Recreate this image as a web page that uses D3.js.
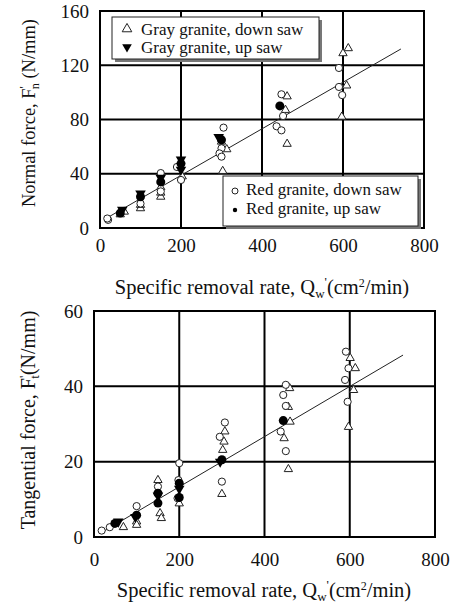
<!DOCTYPE html>
<html>
<head>
<meta charset="utf-8">
<script src="https://cdn.jsdelivr.net/npm/d3@7"></script>
<style>
  body { margin: 0; background: #fff; }
  svg text { font-family: "Liberation Serif", "Times New Roman", "DejaVu Serif", serif; }
</style>
</head>
<body>
<svg id="chart" width="456" height="608"></svg>
<script>
// ---- data: [Q (cm2/min), force (N/mm)] ----
const xTicks = [0, 200, 400, 600, 800];
const normalTicks = [0, 40, 80, 120, 160];
const tangTicks = [0, 20, 40, 60];

// normal force
const normRedDown = [[20, 6], [18, 7], [100, 18], [150, 40.5], [150, 27], [190, 45], [200, 35.4],
  [305, 74], [300, 58.8], [295, 55], [300, 52.6], [448, 98.6], [452, 82.6], [436, 75], [448, 72],
  [590, 118], [590, 104], [598, 98]];
const normGrayDown = [[60, 12], [50, 10], [100, 14.5], [100, 17], [150, 23], [150, 26], [150, 30],
  [203, 38], [300, 63.6], [313, 58], [303, 42], [462, 97], [458, 87], [462, 62],
  [600, 128.8], [613, 132.5], [609, 105], [597, 82]];
const normRedUp = [[50, 11], [100, 23], [150, 34], [200, 47.5], [300, 65], [444, 90]];
const normGrayUp = [[55, 13.5], [100, 25.5], [150, 37], [200, 50.5], [200, 43], [293, 67]];
const normFit = [[17, 7.4], [743, 132]];

// tangential force
const tangRedDown = [[18, 1.7], [37, 2.6], [100, 8.2], [150, 13.4], [200, 19.6], [198, 15.1], [196, 10.3],
  [307, 30.4], [295, 26.6], [300, 14.7], [450, 40.4], [444, 37.7], [450, 34.8], [438, 28], [450, 22.8],
  [591, 49.2], [597, 44.8], [589, 41.7], [595, 35.9]];
const tangGrayDown = [[69, 2.6], [100, 4.1], [100, 3.2], [150, 15.1], [155, 6.3], [158, 5.0], [200, 8.9],
  [307, 28], [305, 25.3], [302, 23.1], [300, 11.4], [459, 39.5], [456, 34.5], [460, 30.6], [446, 26.2], [456, 18],
  [601, 47.5], [613, 44.8], [609, 39], [597, 29.2]];
const tangRedUp = [[49, 3.6], [100, 5.8], [150, 11.6], [150, 9], [200, 14.3], [200, 10.5], [300, 20.5], [444, 30.9]];
const tangGrayUp = [[57, 4.1], [97, 5.3], [150, 11], [200, 12.8], [296, 20]];
const tangFit = [[15, 1], [725, 48.3]];

const svg = d3.select("#chart");

function drawPanel(p) {
  const x = d3.scaleLinear().domain([0, 800]).range([p.left, p.right]);
  const y = d3.scaleLinear().domain([0, p.ymax]).range([p.bottom, p.top]);
  const g = svg.append("g");

  // grid
  g.selectAll(".vg").data(xTicks.slice(1, -1)).enter().append("line")
    .attr("x1", d => x(d)).attr("x2", d => x(d))
    .attr("y1", p.top).attr("y2", p.bottom)
    .attr("stroke", "#000").attr("stroke-width", 2);
  g.selectAll(".hg").data(p.yTicks.slice(1, -1)).enter().append("line")
    .attr("y1", d => y(d)).attr("y2", d => y(d))
    .attr("x1", p.left).attr("x2", p.right)
    .attr("stroke", "#000").attr("stroke-width", 2);

  // axes
  const ax = g.append("g").attr("transform", "translate(0," + p.bottom + ")")
    .call(d3.axisBottom(x).tickValues(xTicks).tickSize(0).tickPadding(p.xPad));
  const ay = g.append("g").attr("transform", "translate(" + p.left + ",0)")
    .call(d3.axisLeft(y).tickValues(p.yTicks).tickSize(0).tickPadding(11));
  [ax, ay].forEach(a => {
    a.select(".domain").remove();
    a.selectAll("text").attr("font-size", 19).attr("fill", "#111");
  });

  // frame
  g.append("rect").attr("x", p.left).attr("y", p.top)
    .attr("width", p.right - p.left).attr("height", p.bottom - p.top)
    .attr("fill", "none").attr("stroke", "#000").attr("stroke-width", 2);

  // fit line
  g.append("line")
    .attr("x1", x(p.fit[0][0])).attr("y1", y(p.fit[0][1]))
    .attr("x2", x(p.fit[1][0])).attr("y2", y(p.fit[1][1]))
    .attr("stroke", "#222").attr("stroke-width", 1);

  const tri = d3.symbol().type(d3.symbolTriangle).size(30);

  g.selectAll(".gd").data(p.grayDown).enter().append("path")
    .attr("d", tri)
    .attr("transform", d => "translate(" + x(d[0]) + "," + y(d[1]) + ")")
    .attr("fill", "#fff").attr("stroke", "#222").attr("stroke-width", 1);
  g.selectAll(".rd").data(p.redDown).enter().append("circle")
    .attr("cx", d => x(d[0])).attr("cy", d => y(d[1])).attr("r", 3.6)
    .attr("fill", "#fff").attr("stroke", "#222").attr("stroke-width", 1);
  g.selectAll(".gu").data(p.grayUp).enter().append("path")
    .attr("d", d3.symbol().type(d3.symbolTriangle).size(48))
    .attr("transform", d => "translate(" + x(d[0]) + "," + y(d[1]) + ") rotate(180)")
    .attr("fill", "#000");
  g.selectAll(".ru").data(p.redUp).enter().append("circle")
    .attr("cx", d => x(d[0])).attr("cy", d => y(d[1])).attr("r", 4.5)
    .attr("fill", "#000");

  // axis titles
  svg.append("text")
    .attr("x", p.xTitleX).attr("y", p.xTitleY)
    .attr("text-anchor", "middle").attr("font-size", 20.5).attr("fill", "#111")
    .html("Specific removal rate, Q<tspan font-size='13' dy='4'>w</tspan><tspan font-size='13' dy='-12'>'</tspan><tspan dy='8'>(cm</tspan><tspan font-size='12' dy='-7'>2</tspan><tspan dy='7'>/min)</tspan>");
  svg.append("text")
    .attr("transform", "translate(35," + p.yTitleY + ") rotate(-90)")
    .attr("text-anchor", "middle").attr("font-size", p.yTitleSize).attr("fill", "#111")
    .html(p.yTitle);
  return { x, y };
}

drawPanel({
  left: 100, right: 424, top: 11, bottom: 228, ymax: 160, yTicks: normalTicks, xPad: 11,
  redDown: normRedDown, grayDown: normGrayDown, redUp: normRedUp, grayUp: normGrayUp, fit: normFit,
  xTitleX: 262, xTitleY: 294, yTitleY: 113, yTitleSize: 18.5,
  yTitle: "Normal force, F<tspan font-size='12' dy='-7'>'</tspan><tspan font-size='12' dy='11' dx='-3'>n</tspan><tspan dy='-4'> (N/mm)</tspan>"
});
drawPanel({
  left: 94, right: 435, top: 311, bottom: 537, ymax: 60, yTicks: tangTicks, xPad: 16,
  redDown: tangRedDown, grayDown: tangGrayDown, redUp: tangRedUp, grayUp: tangGrayUp, fit: tangFit,
  xTitleX: 264, xTitleY: 597, yTitleY: 420, yTitleSize: 20,
  yTitle: "Tangential force, F<tspan font-size='13' dy='-7'>'</tspan><tspan font-size='13' dy='11' dx='-3'>t</tspan><tspan dy='-4'>(N/mm)</tspan>"
});

// legends on the top panel
function legend(bx, by, w, h, rows) {
  const lg = svg.append("g");
  lg.append("rect").attr("x", bx + 3).attr("y", by + 3).attr("width", w).attr("height", h).attr("fill", "#777");
  lg.append("rect").attr("x", bx).attr("y", by).attr("width", w).attr("height", h)
    .attr("fill", "#fff").attr("stroke", "#222").attr("stroke-width", 1);
  rows.forEach((r, i) => {
    const cy = by + r.y0 + i * r.dy;
    if (r.sym === "tri") {
      lg.append("path").attr("d", d3.symbol().type(d3.symbolTriangle).size(40))
        .attr("transform", "translate(" + (bx + 15) + "," + cy + ")")
        .attr("fill", "#fff").attr("stroke", "#222");
    } else if (r.sym === "dtri") {
      lg.append("path").attr("d", d3.symbol().type(d3.symbolTriangle).size(40))
        .attr("transform", "translate(" + (bx + 15) + "," + cy + ") rotate(180)")
        .attr("fill", "#000");
    } else if (r.sym === "circ") {
      lg.append("circle").attr("cx", bx + 12).attr("cy", cy + 2).attr("r", 3)
        .attr("fill", "#fff").attr("stroke", "#222");
    } else {
      lg.append("circle").attr("cx", bx + 12).attr("cy", cy + 2).attr("r", 2.2).attr("fill", "#000");
    }
    lg.append("text").attr("x", bx + r.tx).attr("y", cy + 6)
      .attr("font-size", 17).attr("fill", "#111").text(r.label);
  });
}
legend(112, 17, 207, 42, [
  { sym: "tri", label: "Gray granite, down saw", tx: 29, y0: 12, dy: 18 },
  { sym: "dtri", label: "Gray granite, up saw", tx: 29, y0: 12, dy: 18 }
]);
legend(223, 176, 195, 50, [
  { sym: "circ", label: "Red granite, down saw", tx: 23, y0: 13, dy: 19 },
  { sym: "dot", label: "Red granite, up saw", tx: 23, y0: 13, dy: 19 }
]);
</script>
</body>
</html>
